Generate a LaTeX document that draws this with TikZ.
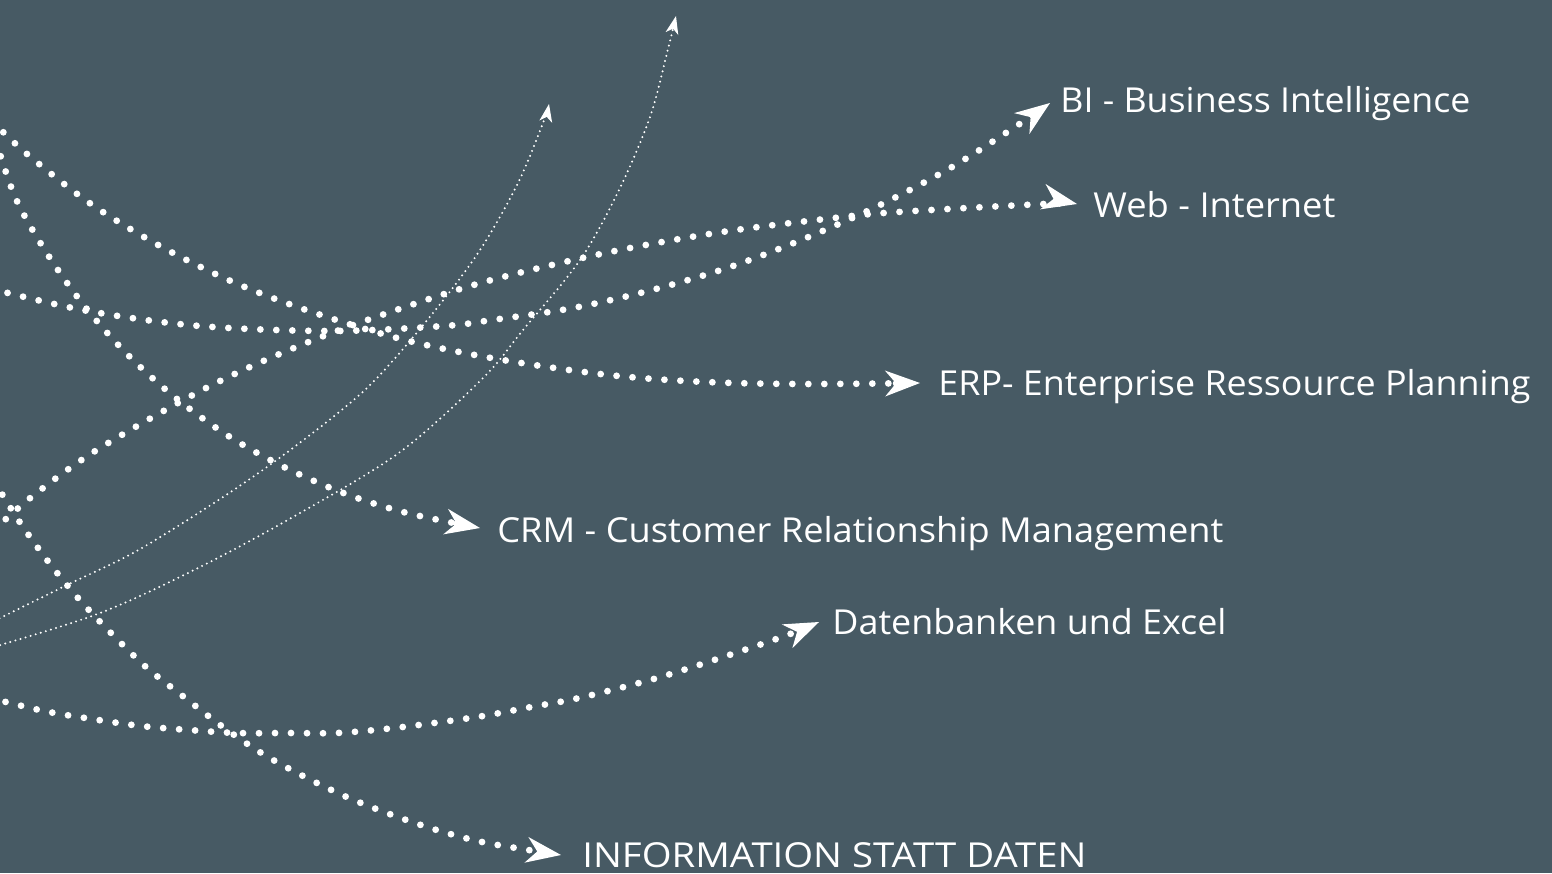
\documentclass[tikz,border=0pt]{standalone}
\usepackage{fontspec}
\setmainfont{Open Sans}
\usetikzlibrary{arrows.meta,calc}
\definecolor{bgslate}{RGB}{71,90,100}
\newcommand{\fitwidth}[2]{\resizebox{#1}{\height}{#2}}
\tikzset{
  dotline/.style={white, line width=3.4pt, line cap=round, dash pattern=on 0pt off 8pt,
    -{Stealth[length=17.5pt, width=13pt, inset=5.5pt, line width=0pt]}},
  thinline/.style={white, line width=1.1pt, line cap=round, dash pattern=on 0pt off 2.65pt,
    -{Stealth[length=9pt, width=6.5pt, inset=2.5pt, line width=0pt]}},
  lbl/.style={anchor=base west, inner sep=0pt, text=white, font=\fontsize{17.2pt}{20pt}\selectfont}
}
\begin{document}
\begin{tikzpicture}[x=0.5pt,y=-0.5pt]
\useasboundingbox (0,0) rectangle (1552,873);
\fill[bgslate] (0,0) rectangle (1552,873);
\clip (0,0) rectangle (1552,873);
% labels
\node[lbl] (bi)   at (1060,112) {\fitwidth{205pt}{BI - Business Intelligence}};
\node[lbl] (web)  at (1093,217) {\fitwidth{121pt}{Web - Internet}};
\node[lbl] (erp)  at (938,395)  {\fitwidth{296pt}{ERP- Enterprise Ressource Planning}};
\node[lbl] (crm)  at (497,542)  {\fitwidth{363pt}{CRM - Customer Relationship Management}};
\node[lbl] (db)   at (832,634)  {\fitwidth{197pt}{Datenbanken und Excel}};
\node[lbl] (info) at (582,867)  {\fitwidth{252pt}{INFORMATION STATT DATEN}};
% arrow tips near labels
\coordinate (biTip)   at ($(bi.base west)+(-10,-9)$);
\coordinate (webTip)  at ($(web.base west)+(-16,-13)$);
\coordinate (erpTip)  at ($(erp.base west)+(-18,-12)$);
\coordinate (crmTip)  at ($(crm.base west)+(-17,-14)$);
\coordinate (dbTip)   at ($(db.base west)+(-13,-12)$);
\coordinate (infoTip) at ($(info.base west)+(-21,-12)$);
% free starts
\coordinate (sBI)   at (-8,289);
\coordinate (sWeb)  at (-6,530);
\coordinate (sERP)  at (-8,121);
\coordinate (sCRM)  at (-4,141);
\coordinate (sDB)   at (-10,698);
\coordinate (sInfo) at (-6,481);
\coordinate (sT1)   at (-10,623);
\coordinate (sT2)   at (-10,648);
\coordinate (eT1)   at (549,104);
\coordinate (eT2)   at (676,16);
% thin curves
\draw[thinline] plot[smooth, tension=0.55] coordinates {(sT1) (67,585) (133,553) (200,512) (267,467) (333,417) (377,378) (433,313) (480,250) (518,183) (543,123) (eT1)};
\draw[thinline] plot[smooth, tension=0.55] coordinates {(sT2) (100,613) (200,567) (300,513) (400,452) (483,378) (523,330) (580,260) (619,190) (650,117) (667,53) (eT2)};
% thick dotted curves
\draw[dotline] plot[smooth, tension=0.55] coordinates {(sBI) (88,311) (200,326) (331,331) (444,326) (492,320) (573,308) (652,290) (730,267) (806,238) (880,205) (952,167) (1021,123) (biTip)};
\draw[dotline] plot[smooth, tension=0.55] coordinates {(sWeb) (34,495) (100,448) (212,385) (316,339) (423,301) (499,278) (610,252) (722,232) (834,218) (898,212) (1044,204) (webTip)};
\draw[dotline] plot[smooth, tension=0.55] coordinates {(sERP) (27,154) (91,204) (160,246) (233,282) (309,311) (401,339) (497,359) (609,375) (706,382) (803,384) (erpTip)};
\draw[dotline] plot[smooth, tension=0.55] coordinates {(sCRM) (16,199) (48,255) (86,308) (129,356) (177,399) (230,437) (286,468) (346,494) (407,513) (crmTip)};
\draw[dotline] plot[smooth, tension=0.55] coordinates {(sDB) (44,711) (92,719) (141,726) (189,730) (237,733) (287,733) (336,733) (385,729) (434,723) (483,716) (531,707) (579,698) (650,680) (705,663) (782,637) (dbTip)};
\draw[dotline] plot[smooth, tension=0.55] coordinates {(sInfo) (19,521) (47,560) (78,598) (111,633) (146,667) (184,697) (223,727) (263,754) (305,777) (349,798) (395,816) (440,831) (487,843) (infoTip)};
\end{tikzpicture}
\end{document}
